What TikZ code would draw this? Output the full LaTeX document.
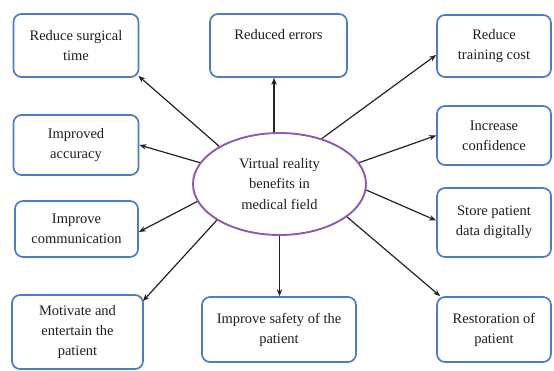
\documentclass[tikz,border=0pt]{standalone}
\usepackage{fontspec}
\setmainfont{Liberation Serif}
\usetikzlibrary{arrows.meta,shapes.geometric}
\definecolor{boxblue}{RGB}{74,124,200}
\definecolor{ellpurple}{RGB}{140,90,180}
\definecolor{arrowgray}{RGB}{35,35,35}
\definecolor{txt}{RGB}{30,30,30}
\tikzset{
  benefit/.style={draw=boxblue, line width=1.7pt, rounded corners=8pt, fill=white,
    align=center, inner sep=2pt, text=txt, font=\fontsize{14.5}{20}\selectfont},
  hub/.style={ellipse, draw=ellpurple, line width=1.9pt, inner sep=0pt,
    minimum width=173pt, minimum height=102pt, align=center, text=txt,
    font=\fontsize{14.5}{20.5}\selectfont},
  link/.style={draw=arrowgray, line width=1.2pt, -{Stealth[length=7pt,width=5.5pt]}}
}
\begin{document}
\begin{tikzpicture}[x=1pt,y=-1pt]
\useasboundingbox (0,0) rectangle (554,371);
% boxes
\node[benefit, minimum width=125pt, minimum height=63pt] (RST) at (76,45.5) {Reduce surgical\\time};
\node[benefit, minimum width=125pt, minimum height=60pt] (IA) at (76,145) {Improved\\accuracy};
\node[benefit, minimum width=137pt, minimum height=63pt] (RE) at (278.5,45.5) {Reduced errors\\[-4pt]\strut};
\node[benefit, minimum width=114pt, minimum height=62pt] (RTC) at (494,46) {Reduce\\training cost};
\node[benefit, minimum width=114pt, minimum height=59pt] (IC) at (494,135.5) {Increase\\confidence};
\node[benefit, minimum width=114pt, minimum height=69pt] (SPD) at (494,222.5) {Store patient\\data digitally};
\node[benefit, minimum width=114pt, minimum height=65pt] (RP) at (494,329.5) {Restoration of\\patient};
\node[benefit, minimum width=154pt, minimum height=65pt] (IS) at (279,329.5) {Improve safety of the\\patient};
\node[benefit, minimum width=123pt, minimum height=56pt] (ICM) at (76.5,229) {Improve\\communication};
\node[benefit, minimum width=131pt, minimum height=74pt] (MOT) at (77.5,332) {Motivate and\\entertain the\\patient};
% hub
\node[hub] (VR) at (279.5,184) {Virtual reality\\benefits in\\medical field};
% arrows
\draw[link] (VR.148) -- ([xshift=-1pt,yshift=2pt]RST.south east);
\draw[link] (VR.165) -- (IA.east);
\draw[link] (VR.96) -- (VR.96 |- RE.south);
\draw[link] (VR.47) -- ([yshift=-9pt]RTC.west);
\draw[link] (VR.15) -- (IC.west);
\draw[link] (VR.356) -- ([yshift=2pt]RP.west |- SPD.west);
\draw[link] (VR.334) -- ([xshift=4pt]RP.north west);
\draw[link] (VR.270) -- (VR.270 |- IS.north);
\draw[link] (VR.192) -- ([yshift=-3pt]ICM.east);
\draw[link] (VR.210) -- ([xshift=-1pt,yshift=-7pt]MOT.north east);
\end{tikzpicture}
\end{document}
